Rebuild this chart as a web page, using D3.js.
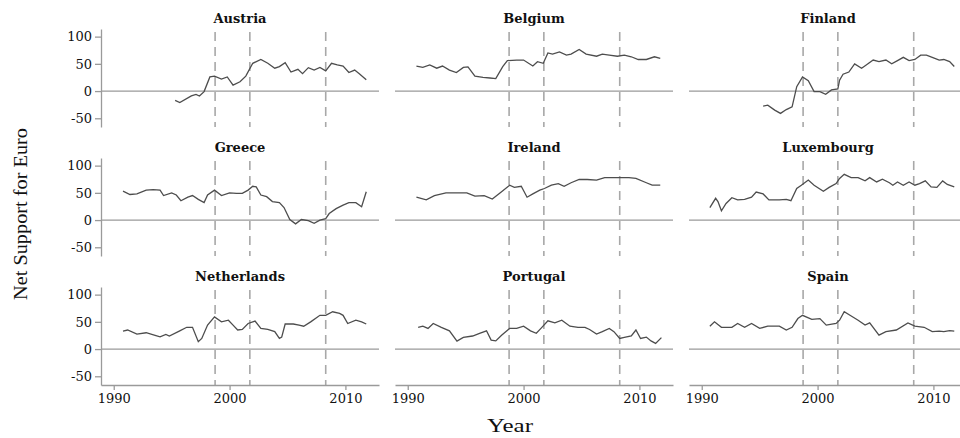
<!DOCTYPE html>
<html>
<head>
<meta charset="utf-8">
<script src="https://cdn.jsdelivr.net/npm/d3@7"></script>
<style>
  body { margin: 0; background: #fff; }
  svg { display: block; }
  .tick text { font-family: "DejaVu Serif", serif; font-size: 13px; fill: #111; }
  .title { font-family: "DejaVu Serif", serif; font-size: 13px; font-weight: bold; fill: #111; }
  .axis-title { font-family: "Liberation Serif", serif; fill: #111; }
</style>
</head>
<body>
<div id="chart"></div>
<script>
// panel names, in reading order
const countries = ["Austria", "Belgium", "Finland", "Greece", "Ireland", "Luxembourg", "Netherlands", "Portugal", "Spain"];

// [year, net support]
const austria = [[1995.3,-17],[1995.7,-21],[1996.7,-9],[1997.1,-6],[1997.4,-9],[1997.8,-1],[1998.3,26],[1998.7,27.5],[1999.3,22],[1999.8,26],[2000.3,11],[2000.9,17],[2001.4,27.5],[2002.0,51],[2002.7,58],[2003.3,51],[2003.9,42],[2004.3,45],[2004.8,52],[2005.3,35],[2005.9,40],[2006.3,32],[2006.8,43],[2007.3,38.5],[2007.8,43.5],[2008.3,37],[2008.8,51],[2009.3,48],[2009.8,46],[2010.3,34],[2010.8,38.5],[2011.2,32],[2011.8,21]];
const belgium = [[1990.75,46],[1991.3,43.5],[1991.9,48],[1992.5,42],[1993.0,46],[1993.6,38.5],[1994.2,34],[1994.8,43.5],[1995.2,44.5],[1995.8,27.5],[1996.5,25],[1997.1,24],[1997.6,23],[1998.2,45],[1998.6,56],[1999.4,57],[2000.0,57],[2000.8,46],[2001.2,54],[2001.7,51],[2002.1,70],[2002.5,68],[2003.1,72],[2003.7,66],[2004.1,68],[2004.8,76.5],[2005.4,68],[2006.3,64],[2006.8,68],[2007.4,66],[2008.1,64],[2008.7,66],[2009.3,63],[2009.9,58],[2010.6,58],[2011.3,63],[2011.8,60]];
const finland = [[1995.3,-27.5],[1995.7,-26],[1996.3,-35],[1996.8,-41],[1997.3,-34],[1997.8,-29],[1998.2,8],[1998.7,26],[1999.2,19],[1999.7,-1],[2000.2,-1],[2000.7,-6],[2001.2,2],[2001.75,4],[2001.9,20],[2002.2,31],[2002.7,35],[2003.2,50],[2003.8,42],[2004.2,48],[2004.8,57],[2005.3,54],[2005.9,57],[2006.4,50],[2006.9,56],[2007.4,62],[2007.9,56],[2008.4,58],[2008.9,66],[2009.4,66],[2009.9,62],[2010.5,57],[2010.9,58],[2011.4,54],[2011.8,45]];
const greece = [[1990.8,53],[1991.4,47],[1992.0,48],[1992.8,55],[1993.4,56],[1994.0,55],[1994.3,45],[1995.0,50],[1995.4,46],[1995.8,35.5],[1996.4,42],[1996.8,45],[1997.3,38],[1997.8,32],[1998.1,46],[1998.7,55],[1999.3,45],[2000.0,50],[2000.6,49],[2001.1,49],[2001.6,55],[2002.0,62],[2002.3,61],[2002.7,46],[2003.2,43],[2003.7,34],[2004.3,32],[2004.7,23],[2005.2,1],[2005.7,-7],[2006.2,1],[2006.8,-1],[2007.3,-6],[2007.8,0],[2008.3,2.5],[2008.6,12],[2009.2,21],[2009.8,27.5],[2010.3,32],[2010.9,32],[2011.4,24.5],[2011.8,52]];
const ireland = [[1990.75,42],[1991.6,37],[1992.3,45],[1993.3,50],[1995.1,50],[1995.8,44],[1996.6,45],[1997.3,38.5],[1998.1,52],[1998.8,64],[1999.2,60],[1999.8,62],[2000.3,42],[2000.8,48],[2001.4,55],[2001.8,58],[2002.4,64],[2003.0,67],[2003.5,62],[2004.1,68.5],[2004.8,74.5],[2005.5,74.5],[2006.3,73.5],[2007.0,78],[2008.3,78],[2009.1,78],[2009.7,76.5],[2010.6,68.5],[2011.1,64],[2011.8,64]];
const luxembourg = [[1990.7,23],[1991.2,40],[1991.4,34],[1991.7,17],[1992.1,30.5],[1992.6,41],[1993.1,37],[1993.7,38],[1994.3,42],[1994.7,51.5],[1995.3,48],[1995.8,37],[1996.7,37],[1997.3,38],[1997.7,35.5],[1998.2,58],[1998.6,64],[1999.2,73.5],[1999.7,64],[2000.5,53],[2001.0,60],[2001.6,67],[2001.9,76.5],[2002.3,84],[2002.9,78],[2003.5,78],[2004.1,72],[2004.5,78],[2005.1,70],[2005.6,75],[2006.2,68.5],[2006.5,64],[2006.9,70],[2007.4,64],[2007.9,70],[2008.4,64],[2008.8,67],[2009.3,72],[2009.8,61],[2010.3,60],[2010.8,72],[2011.2,65.5],[2011.8,61]];
const netherlands = [[1990.8,33],[1991.2,35],[1992.0,27.5],[1992.8,30],[1993.5,25.5],[1994.0,22.5],[1994.5,27],[1994.8,24],[1995.7,33.5],[1996.3,40],[1996.8,40],[1997.3,13.5],[1997.6,19.5],[1998.1,44],[1998.7,59],[1999.3,50],[1999.9,53],[2000.3,44],[2000.7,35],[2001.1,36],[2001.6,47],[2002.2,51.5],[2002.7,38],[2003.3,36],[2003.9,32],[2004.3,19.5],[2004.5,22],[2004.8,46],[2005.5,46],[2006.0,44],[2006.4,42],[2007.0,50],[2007.8,62],[2008.3,62],[2008.9,68.5],[2009.5,65.5],[2009.8,62],[2010.2,47],[2010.9,53],[2011.4,50],[2011.8,46]];
const portugal = [[1990.9,40],[1991.3,42],[1991.75,38],[1992.2,47],[1992.9,40],[1993.6,33.5],[1994.25,14.5],[1994.8,21.5],[1995.6,24],[1996.2,29],[1996.8,33.5],[1997.2,16.5],[1997.6,15],[1998.1,25.5],[1998.8,38],[1999.4,38],[2000.0,42],[2000.6,33.5],[2001.1,29],[2001.5,38],[2002.1,52],[2002.7,48],[2003.3,53],[2004.0,42],[2004.7,40],[2005.3,40],[2005.7,36],[2006.3,27.5],[2006.8,32],[2007.4,38],[2007.8,32],[2008.3,19.5],[2008.7,21.5],[2009.3,24],[2009.7,35],[2010.1,19.5],[2010.6,22],[2011.0,15],[2011.4,10.5],[2011.9,21]];
const spain = [[1990.7,42],[1991.1,50],[1991.7,40],[1992.6,40],[1993.1,47],[1993.7,40],[1994.3,47],[1995.0,38],[1995.7,42],[1996.7,42],[1997.3,35],[1997.8,40],[1998.3,56],[1998.7,62],[1999.5,54.5],[2000.2,56],[2000.75,44],[2001.6,47],[2001.9,53],[2002.3,68.5],[2002.8,62],[2003.5,53],[2004.1,44],[2004.5,48],[2005.3,25.5],[2005.9,32],[2006.8,35],[2007.8,48],[2008.4,42],[2009.2,40],[2009.9,32],[2010.5,33],[2010.9,32],[2011.4,34],[2011.8,33]];

const series = [austria, belgium, finland, greece, ireland, luxembourg, netherlands, portugal, spain];

// dashed reference years and tick labels
const eventYears = [1998.75, 2001.75, 2008.3];
const xTicks = [1990, 2000, 2010];
const yTicks = [100, 50, 0, -50];

const width = 960, height = 438;
const panelW = 278, panelH = 98;
const marginLeft = 101, marginTop = 29, colStep = 294, rowStep = 129;

const svg = d3.select("#chart").append("svg")
    .attr("width", width)
    .attr("height", height);

const x = d3.scaleLinear().domain([1988.9, 2012.9]).range([0, panelW]);
const y = d3.scaleLinear().domain([-66, 114]).range([panelH, 0]);

const line = d3.line()
    .x(d => x(d[0]))
    .y(d => y(d[1]));

countries.forEach((name, i) => {
    const col = i % 3, row = Math.floor(i / 3);
    const g = svg.append("g")
        .attr("transform", `translate(${marginLeft + col * colStep},${marginTop + row * rowStep})`);

    // title
    g.append("text")
        .attr("class", "title")
        .attr("x", panelW / 2)
        .attr("y", -6)
        .attr("text-anchor", "middle")
        .text(name);

    // zero line
    g.append("line")
        .attr("x1", 0).attr("x2", panelW)
        .attr("y1", y(0)).attr("y2", y(0))
        .attr("stroke", "#9a9a9a")
        .attr("stroke-width", 1.3);

    // dashed event lines
    g.selectAll(".event")
        .data(eventYears)
        .join("line")
        .attr("class", "event")
        .attr("x1", d => x(d)).attr("x2", d => x(d))
        .attr("y1", 3).attr("y2", panelH)
        .attr("stroke", "#a8a8a8")
        .attr("stroke-width", 1.6)
        .attr("stroke-dasharray", "9,6");

    // the series
    g.append("path")
        .datum(series[i])
        .attr("fill", "none")
        .attr("stroke", "#4d4d4d")
        .attr("stroke-width", 1.3)
        .attr("d", line);

    if (col === 0) {
        const ay = g.append("g")
            .call(d3.axisLeft(y).tickValues(yTicks).tickSize(6).tickSizeOuter(0).tickPadding(3)
                .tickFormat(d => String(d)));
        ay.selectAll("path, line").attr("stroke", "#9a9a9a").attr("stroke-width", 1.3);
    }
    if (row === 2) {
        const ax = g.append("g")
            .attr("transform", `translate(0,${panelH})`)
            .call(d3.axisBottom(x).tickValues(xTicks).tickSize(5).tickSizeOuter(0).tickPadding(4)
                .tickFormat(d3.format("d")));
        ax.selectAll("path, line").attr("stroke", "#9a9a9a").attr("stroke-width", 1.3);
    }
});

svg.selectAll(".domain").attr("fill", "none");

// axis titles
svg.append("text")
    .attr("class", "axis-title")
    .attr("transform", "translate(27,214) rotate(-90)")
    .attr("text-anchor", "middle")
    .attr("font-size", 18)
    .attr("textLength", 172)
    .attr("lengthAdjust", "spacingAndGlyphs")
    .text("Net Support for Euro");

svg.append("text")
    .attr("class", "axis-title")
    .attr("x", 510)
    .attr("y", 432)
    .attr("text-anchor", "middle")
    .attr("font-size", 19)
    .attr("textLength", 46)
    .attr("lengthAdjust", "spacingAndGlyphs")
    .text("Year");
</script>
</body>
</html>
